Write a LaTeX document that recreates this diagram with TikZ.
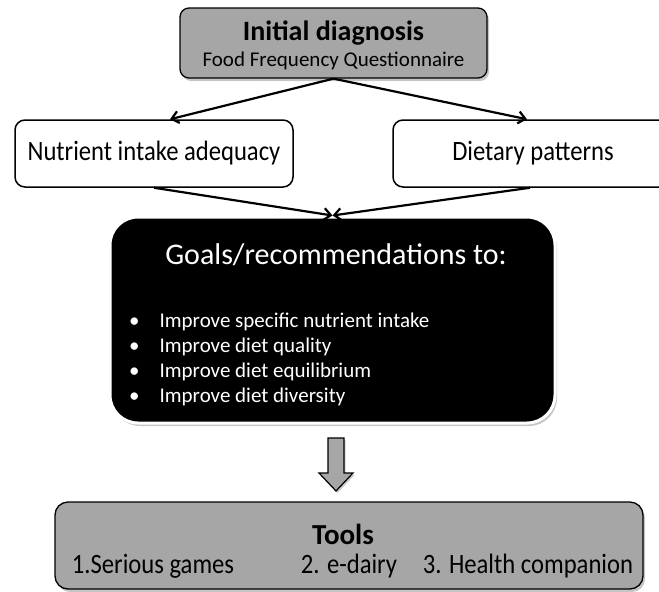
\documentclass[tikz,border=0pt]{standalone}
\usepackage{fontspec}
\setmainfont{Carlito}
\newfontfamily\narrowfont[FakeStretch=0.88]{Carlito}
\usetikzlibrary{calc,shadows,arrows.meta}

\definecolor{boxgray}{RGB}{166,166,166}

\tikzset{
  graybox/.style={draw, line width=1.3pt, fill=boxgray, rounded corners=9pt,
    drop shadow={opacity=0.45, shadow xshift=2pt, shadow yshift=-3pt}},
  whitebox/.style={draw, line width=1.5pt, fill=white, rounded corners=10pt},
  goalbox/.style={draw=white, line width=3pt, fill=black, rounded corners=28pt,
    drop shadow={opacity=0.45, shadow xshift=2pt, shadow yshift=-3pt}},
  flow/.style={-{Straight Barb[length=7pt,width=12pt]}, line width=2.2pt},
  label/.style={inner sep=0pt},
}

\begin{document}
\begin{tikzpicture}[x=1pt,y=-1pt]
\useasboundingbox (0,0) rectangle (659,592);

% boxes
\node[graybox, minimum width=307pt, minimum height=70pt] (diag) at (333.5,43) {};
\node[label] (diagtitle) at (333.5,33) {\fontsize{28}{30}\selectfont\bfseries Initial diagnosis};
\node[label] (diagsub) at (333.5,61) {\fontsize{21}{24}\selectfont Food Frequency Questionnaire};

\node[whitebox, minimum width=278pt, minimum height=67pt] (nia) at (154,153.5)
  {\narrowfont\fontsize{28}{30}\selectfont Nutrient intake adequacy};
\node[whitebox, minimum width=280pt, minimum height=67pt] (diet) at (533,153.5)
  {\narrowfont\fontsize{28}{30}\selectfont Dietary patterns};

\node[goalbox, minimum width=445pt, minimum height=206pt] (goals) at (332.5,320) {};
\node[label, text=white] (goalstitle) at (336,255)
  {\fontsize{30}{32}\selectfont Goals/recommendations to:};
\node[label, text=white, anchor=west] (goalslist) at (129,359.5)
  {\fontsize{21}{25}\selectfont
   \begin{tabular}{@{}l@{\hspace{20pt}}l@{}}
   • & Improve specific nutrient intake\\
   • & Improve diet quality\\
   • & Improve diet equilibrium\\
   • & Improve diet diversity
   \end{tabular}};

\node[graybox, rounded corners=13pt, minimum width=588pt, minimum height=87pt] (tools) at (349,545.5) {};
\node[label] (toolstitle) at (343,534) {\fontsize{29}{31}\selectfont\bfseries Tools};
\node[label] (game) at (153,566) {\narrowfont\fontsize{28}{30}\selectfont 1.Serious games};
\node[label] (dairy) at (349,566) {\narrowfont\fontsize{28}{30}\selectfont 2. e-dairy};
\node[label] (companion) at (528,566) {\narrowfont\fontsize{28}{30}\selectfont 3. Health companion};

% connectors
\draw[flow] (diag.south) -- ($(nia.north)+(16,0)$);
\draw[flow] (diag.south) -- ($(diet.north)+(-6,0)$);
\draw[flow] (nia.south) -- (goals.north);
\draw[flow] ($(diet.south)+(-3,0)$) -- (goals.north);

% block arrow down to the tools
\draw[line width=1.2pt, fill=boxgray, drop shadow={opacity=0.4, shadow xshift=1.5pt, shadow yshift=-2pt}]
  (328,438) -- (344,438) -- (344,473) -- (353,473) -- (336,491)
  -- (319,473) -- (328,473) -- cycle;
\end{tikzpicture}
\end{document}
